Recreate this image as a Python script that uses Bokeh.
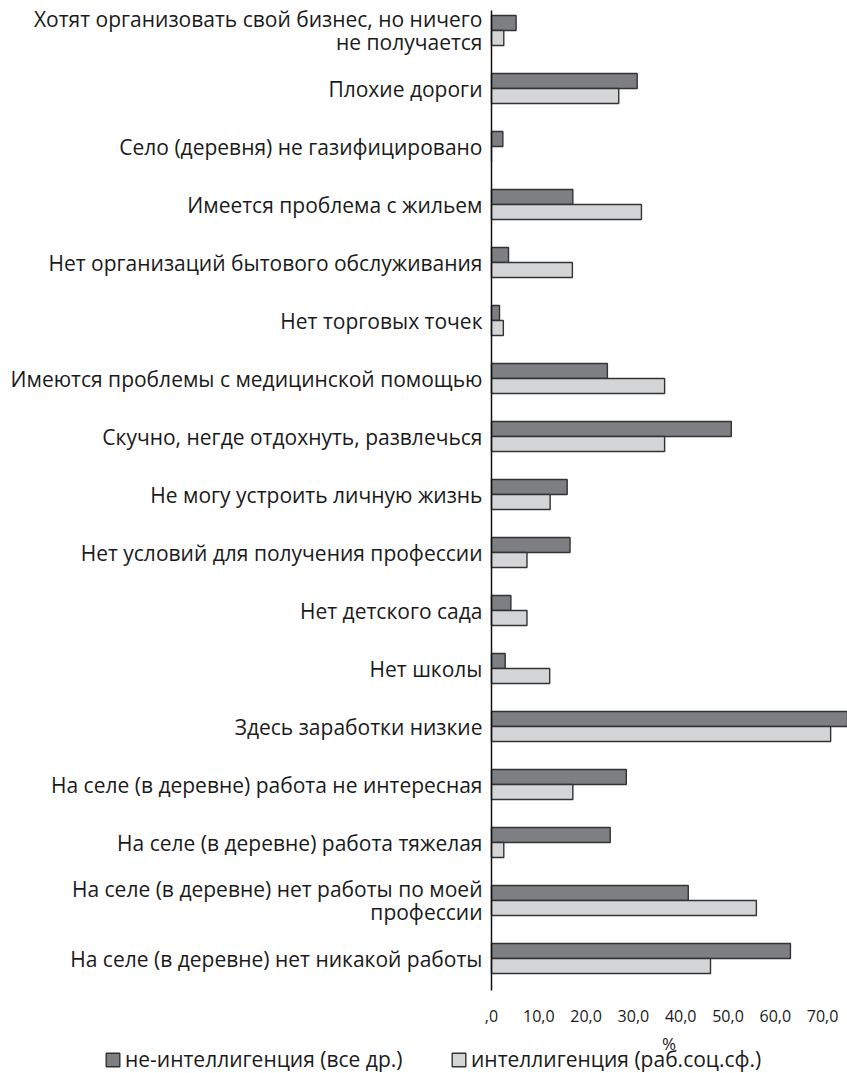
from bokeh.plotting import figure
from bokeh.models import FixedTicker, Range1d, Legend, LegendItem, ColumnDataSource
from bokeh.embed import file_html
from bokeh.resources import INLINE

categories = [
    "Хотят организовать свой бизнес, но ничего\nне получается",
    "Плохие дороги",
    "Село (деревня) не газифицировано",
    "Имеется проблема с жильем",
    "Нет организаций бытового обслуживания",
    "Нет торговых точек",
    "Имеются проблемы с медицинской помощью",
    "Скучно, негде отдохнуть, развлечься",
    "Не могу устроить личную жизнь",
    "Нет условий для получения профессии",
    "Нет детского сада",
    "Нет школы",
    "Здесь заработки низкие",
    "На селе (в деревне) работа не интересная",
    "На селе (в деревне) работа тяжелая",
    "На селе (в деревне) нет работы по моей\nпрофессии",
    "На селе (в деревне) нет никакой работы",
]
non_intel = [5.2, 30.8, 2.4, 17.2, 3.6, 1.7, 24.5, 50.7, 16.0, 16.6, 4.1, 2.9, 76.0, 28.5, 25.1, 41.6, 63.2]
intel = [2.6, 26.9, 0.0, 31.7, 17.1, 2.5, 36.6, 36.6, 12.4, 7.5, 7.5, 12.3, 71.7, 17.2, 2.6, 56.0, 46.3]
series_names = ["не-интеллигенция (все др.)", "интеллигенция (раб.соц.сф.)"]
x_ticks = [0, 10, 20, 30, 40, 50, 60, 70]
x_tick_labels = [",0", "10,0", "20,0", "30,0", "40,0", "50,0", "60,0", "70,0"]
x_title = "%"

FONT = "Open Sans"
TXT = "#1a1a1a"
DARK = "#7e7f83"
LIGHT = "#d4d5d7"
EDGE = "#333333"
BAR_H = 0.259

# layout geometry (pixels of the 847x1073 canvas)
W, H = 847, 1073
X0_PX = 491          # pixel of value 0
PX_PER_UNIT = 4.73   # horizontal pixels per percent
Y0_PX = 30           # pixel of the first category centre
ROW_PX = 58          # pixels per category
AXIS_TOP_PX, AXIS_BOTTOM_PX = 10, 990

def y_of(px):
    return (px - Y0_PX) / ROW_PX

pos = list(range(len(categories)))
src = ColumnDataSource(dict(
    pos_dark=[i - BAR_H / 2 for i in pos],
    pos_light=[i + BAR_H / 2 for i in pos],
    v_dark=non_intel,
    v_light=intel,
))

p = figure(width=W, height=H, output_backend="svg", toolbar_location=None,
           x_range=Range1d(-X0_PX / PX_PER_UNIT, (W - X0_PX) / PX_PER_UNIT),
           y_range=Range1d(y_of(H), y_of(0)),
           min_border_left=0, min_border_right=0, min_border_top=0, min_border_bottom=0)
p.outline_line_color = None
p.xgrid.visible = False
p.ygrid.visible = False
p.background_fill_color = "white"

r1 = p.hbar(y="pos_dark", right="v_dark", left=0, height=BAR_H, source=src,
            fill_color=DARK, line_color=EDGE, line_width=1.4)
r2 = p.hbar(y="pos_light", right="v_light", left=0, height=BAR_H, source=src,
            fill_color=LIGHT, line_color=EDGE, line_width=1.4)

ya = p.yaxis[0]
ya.fixed_location = 0
ya.bounds = (y_of(AXIS_TOP_PX), y_of(AXIS_BOTTOM_PX))
ya.ticker = FixedTicker(ticks=pos)
ya.major_label_overrides = {i: c for i, c in zip(pos, categories)}
ya.major_tick_line_color = None
ya.minor_tick_line_color = None
ya.axis_line_color = "#111111"
ya.axis_line_width = 1.5
ya.major_label_standoff = 3
ya.major_label_text_font = FONT
ya.major_label_text_font_size = "21px"
ya.major_label_text_line_height = 0.8
ya.major_label_text_color = TXT

xa = p.xaxis[0]
xa.fixed_location = y_of(AXIS_BOTTOM_PX)
xa.bounds = (0, 75)
xa.ticker = FixedTicker(ticks=x_ticks)
xa.major_label_overrides = {t: l for t, l in zip(x_ticks, x_tick_labels)}
xa.axis_line_color = None
xa.major_tick_line_color = None
xa.minor_tick_line_color = None
xa.major_label_standoff = 13
xa.major_label_text_font = FONT
xa.major_label_text_font_size = "16px"
xa.major_label_text_color = TXT
xa.axis_label = x_title
xa.axis_label_text_font = FONT
xa.axis_label_text_font_size = "17px"
xa.axis_label_text_font_style = "normal"
xa.axis_label_text_color = TXT
xa.axis_label_standoff = 7

for rend, name, loc in [(r1, series_names[0], (104, 0)), (r2, series_names[1], (450, 0))]:
    lg = Legend(items=[LegendItem(label=name, renderers=[rend])], location=loc,
                orientation="horizontal", padding=0, margin=0, spacing=0,
                glyph_width=17, glyph_height=17, label_standoff=4,
                label_height=14, label_text_line_height=0.7,
                label_text_font=FONT, label_text_font_size="21px", label_text_color=TXT,
                border_line_color=None, background_fill_alpha=0)
    p.add_layout(lg, "center")

open("out.html", "w").write(file_html(p, INLINE))
